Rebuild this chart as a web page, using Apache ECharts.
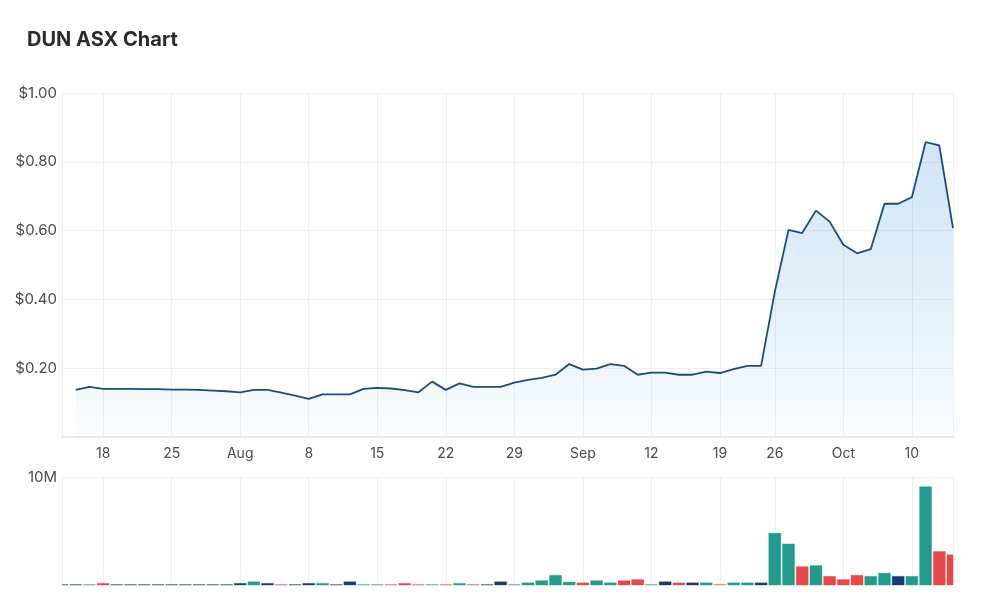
<!DOCTYPE html>
<html>
<head>
<meta charset="utf-8">
<title>DUN ASX Chart</title>
<script src="https://cdn.jsdelivr.net/npm/echarts@6/dist/echarts.min.js"></script>
<style>
  html, body { margin: 0; padding: 0; background: #fff; }
  #chart { width: 1000px; height: 612px; }
</style>
</head>
<body>
<div id="chart"></div>
<script>
// trading days, 2022
const dates = [
  '07-13','07-14','07-15','07-18','07-19','07-20','07-21','07-22','07-25','07-26','07-27','07-28','07-29',
  '08-01','08-02','08-03','08-04','08-05','08-08','08-09','08-10','08-11','08-12',
  '08-15','08-16','08-17','08-18','08-19','08-22','08-23','08-24','08-25','08-26',
  '08-29','08-30','08-31','09-01','09-02','09-05','09-06','09-07','09-08','09-09',
  '09-12','09-13','09-14','09-15','09-16','09-19','09-20','09-21','09-23',
  '09-26','09-27','09-28','09-29','09-30','10-03','10-04','10-05','10-06','10-07',
  '10-10','10-11','10-12','10-13'
];

// weekly tick labels (Mondays), month name on the first Monday of the month
const tickLabels = {
  '07-18': '18', '07-25': '25', '08-01': 'Aug', '08-08': '8', '08-15': '15',
  '08-22': '22', '08-29': '29', '09-05': 'Sep', '09-12': '12', '09-19': '19',
  '09-26': '26', '10-03': 'Oct', '10-10': '10'
};

// close price ($), no close shown for the first day
const prices = [
  null, 0.137, 0.146, 0.140, 0.140, 0.140, 0.139, 0.139, 0.138, 0.138, 0.137, 0.135, 0.133,
  0.130, 0.137, 0.137, 0.129, 0.120, 0.111, 0.124, 0.124, 0.124, 0.140,
  0.143, 0.141, 0.136, 0.130, 0.161, 0.137, 0.156, 0.146, 0.146, 0.146,
  0.158, 0.166, 0.172, 0.181, 0.212, 0.196, 0.199, 0.212, 0.207, 0.181,
  0.187, 0.187, 0.181, 0.181, 0.190, 0.186, 0.197, 0.207, 0.207,
  0.422, 0.602, 0.593, 0.658, 0.626, 0.559, 0.534, 0.546, 0.678, 0.678,
  0.697, 0.857, 0.848, 0.607
];

// volume (millions of shares)
const volumes = [
  0.03, 0.03, 0.03, 0.15, 0.03, 0.03, 0.03, 0.03, 0.03, 0.03, 0.03, 0.03, 0.03,
  0.15, 0.3, 0.15, 0.03, 0.03, 0.15, 0.15, 0.03, 0.3, 0.03,
  0.03, 0.03, 0.15, 0.03, 0.03, 0.03, 0.15, 0.03, 0.03, 0.3,
  0.03, 0.2, 0.4, 0.9, 0.27, 0.2, 0.4, 0.2, 0.4, 0.5,
  0.03, 0.3, 0.2, 0.2, 0.2, 0.03, 0.2, 0.2, 0.2,
  4.8, 3.8, 1.7, 1.8, 0.8, 0.5, 0.9, 0.8, 1.1, 0.8,
  0.8, 9.1, 3.1, 2.8
];

// day direction: u = up, d = down, f = flat
const moves = [
  'f','f','u','d','f','f','f','f','f','f','f','f','f',
  'f','u','f','d','f','f','u','f','f','u',
  'u','d','d','d','u','d','u','d','f','f',
  'u','u','u','u','u','d','u','u','d','d',
  'u','f','d','f','u','d','u','u','f',
  'u','u','d','u','d','d','d','u','u','f',
  'u','u','d','d'
];

const moveColors = { u: '#229a8c', d: '#e84848', f: '#163b72' };
const moveBorders = { u: 'rgba(34,154,140,0.35)', d: 'rgba(232,72,72,0.35)', f: 'rgba(22,59,114,0.35)' };

let myChart = echarts.init(document.getElementById('chart'));

const isTick = (idx, val) => tickLabels[val] !== undefined;
const isGridLine = (idx, val) => idx === 0 || idx === dates.length - 1 || tickLabels[val] !== undefined;
const labelFont = { color: '#4a4a4a', fontSize: 14, fontFamily: 'Inter' };

// volume bars drawn as custom rects so the half bars at both ends are clipped to the grid
function renderVolume(params, api) {
  let idx = api.value(0)
  let top = api.coord([idx, api.value(1)])
  let base = api.coord([idx, 0])
  let w = 12
  let cs = params.coordSys
  let shape = echarts.graphic.clipRectByRect(
    { x: top[0] - w / 2, y: top[1], width: w, height: base[1] - top[1] },
    { x: cs.x, y: cs.y, width: cs.width, height: cs.height }
  )
  if (!shape) return null
  let m = moves[params.dataIndex]
  return {
    type: 'rect',
    shape: shape,
    style: { fill: moveColors[m], stroke: moveBorders[m], lineWidth: 1 }
  }
}

let option = {
  animation: false,
  title: {
    text: 'DUN ASX Chart',
    left: 22,
    top: 25,
    textStyle: { fontFamily: 'Inter', fontSize: 20, fontWeight: 700, color: '#2b2b2b' }
  },
  grid: [
    { left: 62, right: 47, top: 93, height: 344 },
    { left: 62, right: 47, top: 477, height: 108 }
  ],
  xAxis: [{
    type: 'category',
    gridIndex: 0,
    data: dates,
    boundaryGap: false,
    axisLine: { lineStyle: { color: '#e8e8e8', width: 2 } },
    axisTick: { show: false },
    axisLabel: Object.assign({
      interval: isTick,
      formatter: v => tickLabels[v] || '',
      margin: 10
    }, labelFont),
    splitLine: { show: true, interval: isGridLine, lineStyle: { color: '#efefef' } }
  }, {
    type: 'category',
    gridIndex: 1,
    data: dates,
    boundaryGap: false,
    axisLine: { show: false },
    axisTick: { show: false },
    axisLabel: { show: false },
    splitLine: { show: true, interval: isGridLine, lineStyle: { color: '#efefef' } }
  }],
  yAxis: [{
    type: 'value',
    gridIndex: 0,
    min: 0,
    max: 1,
    interval: 0.2,
    axisLine: { show: false },
    axisTick: { show: false },
    axisLabel: Object.assign({}, labelFont, {
      formatter: v => v === 0 ? '' : '$' + v.toFixed(2),
      fontSize: 15,
      margin: 5
    }),
    splitLine: { lineStyle: { color: '#efefef' } }
  }, {
    type: 'value',
    gridIndex: 1,
    min: 0,
    max: 10,
    interval: 10,
    axisLine: { show: false },
    axisTick: { show: false },
    axisLabel: Object.assign({}, labelFont, {
      formatter: v => v === 0 ? '' : v + 'M',
      fontSize: 15,
      margin: 5
    }),
    splitLine: { lineStyle: { color: ['transparent', '#efefef'] } }
  }],
  series: [{
    name: 'Price',
    type: 'line',
    xAxisIndex: 0,
    yAxisIndex: 0,
    data: prices,
    symbol: 'none',
    lineStyle: { color: '#1d4a85', width: 1.8 },
    areaStyle: {
      color: new echarts.graphic.LinearGradient(0, 0, 0, 1, [
        { offset: 0, color: 'rgba(95,165,225,0.42)' },
        { offset: 0.5, color: 'rgba(95,165,225,0.26)' },
        { offset: 1, color: 'rgba(95,165,225,0.04)' }
      ])
    }
  }, {
    name: 'Volume',
    type: 'custom',
    xAxisIndex: 1,
    yAxisIndex: 1,
    renderItem: renderVolume,
    encode: { x: 0, y: 1 },
    data: volumes.map((v, i) => [i, v])
  }]
};

myChart.setOption(option);
</script>
</body>
</html>
